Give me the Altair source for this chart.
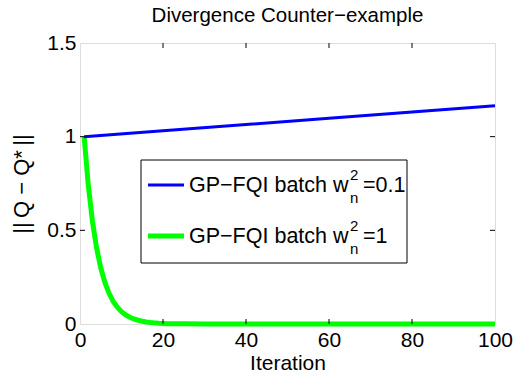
import altair as alt
import pandas as pd

# ---- data ----
iterations_blue = [1, 20, 40, 60, 80, 100]
values_blue = [1.000, 1.032, 1.065, 1.098, 1.132, 1.165]

iterations_green = [1, 2, 3, 4, 5, 6, 7, 8, 9, 10, 11, 12, 13, 14, 15, 16, 17, 18,
                    19, 20, 21, 22, 23, 24, 25, 30, 40, 50, 60, 70, 80, 90, 100]
values_green = [1.000, 0.740, 0.548, 0.405, 0.300, 0.222, 0.164, 0.121, 0.090, 0.066,
                0.049, 0.036, 0.027, 0.020, 0.015, 0.011, 0.008, 0.006, 0.004, 0.003,
                0.002, 0.002, 0.001, 0.001, 0.001, 0.0, 0.0, 0.0, 0.0, 0.0, 0.0, 0.0, 0.0]

x_ticks = [0, 20, 40, 60, 80, 100]
y_ticks = [0, 0.5, 1, 1.5]
x_inner_ticks = [20, 40, 60, 80]
y_inner_ticks = [0.5, 1]

title_text = "Divergence Counter\u2212example"
x_title = "Iteration"
y_title = "||\u2009Q \u2212 Q*\u2009||"

legend_main = ["GP\u2212FQI batch w", "GP\u2212FQI batch w"]
legend_sup = ["2", "2"]
legend_sub = ["n", "n"]
legend_val = ["=0.1", "=1"]
colors = ["#0000ff", "#00ff00"]
widths = [3, 5]

FONT = "Liberation Sans"
W, H = 415, 281

xs = alt.Scale(domain=[0, 100], nice=False, zero=False)
ys = alt.Scale(domain=[0, 1.5], nice=False)

xaxis = alt.Axis(values=x_ticks, ticks=False, domain=False, grid=False,
                 labelFlush=False, labelOverlap=False, labelPadding=5,
                 labelFont=FONT, labelFontSize=21, labelColor="black",
                 title=x_title, titleFont=FONT, titleFontSize=21,
                 titleFontWeight="normal", titleColor="black",
                 titleY=39, titleBaseline="middle")
yaxis = alt.Axis(values=y_ticks, format="~g", ticks=False, domain=False, grid=False,
                 labelFlush=False, labelOverlap=False, labelPadding=4,
                 labelFont=FONT, labelFontSize=21, labelColor="black",
                 title=y_title, titleFont=FONT, titleFontSize=22,
                 titleFontWeight="normal", titleColor="black",
                 titleX=-59, titleY=H / 2, titleAlign="center", titleBaseline="middle")

xenc = alt.X("Iteration:Q", scale=xs, axis=xaxis)
yenc = alt.Y("Value:Q", scale=ys, axis=yaxis)

df_blue = pd.DataFrame({"Iteration": iterations_blue, "Value": values_blue})
df_green = pd.DataFrame({"Iteration": iterations_green, "Value": values_green})

green = alt.Chart(df_green).mark_line(color=colors[1], strokeWidth=widths[1]).encode(x=xenc, y=yenc)
blue = alt.Chart(df_blue).mark_line(color=colors[0], strokeWidth=widths[0]).encode(x=xenc, y=yenc)

dx = pd.DataFrame({"Iteration": x_inner_ticks})
dy = pd.DataFrame({"Value": y_inner_ticks})
tick_style = dict(color="black", strokeWidth=1)
t_bottom = alt.Chart(dx).mark_rule(**tick_style).encode(x=xenc, y=alt.value(H), y2=alt.value(H - 5))
t_top = alt.Chart(dx).mark_rule(**tick_style).encode(x=xenc, y=alt.value(0), y2=alt.value(5))
t_left = alt.Chart(dy).mark_rule(**tick_style).encode(y=yenc, x=alt.value(0), x2=alt.value(5))
t_right = alt.Chart(dy).mark_rule(**tick_style).encode(y=yenc, x=alt.value(W - 5), x2=alt.value(W))

one = pd.DataFrame({"k": [0]})
box = alt.Chart(one).mark_rect(fill="white", stroke="black", strokeWidth=1).encode(
    x=alt.value(61), x2=alt.value(327), y=alt.value(117), y2=alt.value(220))

legend_layers = []
row_y = [143, 194]
main_x = 109
sup_x = 270
val_x = 283
for i in range(2):
    ry = row_y[i]
    legend_layers.append(alt.Chart(one).mark_rule(color=colors[i], strokeWidth=widths[i]).encode(
        x=alt.value(68), x2=alt.value(104), y=alt.value(ry - 1)))
    legend_layers.append(alt.Chart(one).mark_text(align="left", baseline="middle", font=FONT,
                                                  fontSize=21.5, color="black").encode(
        x=alt.value(main_x), y=alt.value(ry), text=alt.value(legend_main[i])))
    legend_layers.append(alt.Chart(one).mark_text(align="left", baseline="middle", font=FONT,
                                                  fontSize=15, color="black").encode(
        x=alt.value(sup_x), y=alt.value(ry - 11), text=alt.value(legend_sup[i])))
    legend_layers.append(alt.Chart(one).mark_text(align="left", baseline="middle", font=FONT,
                                                  fontSize=15, color="black").encode(
        x=alt.value(sup_x), y=alt.value(ry + 12), text=alt.value(legend_sub[i])))
    legend_layers.append(alt.Chart(one).mark_text(align="left", baseline="middle", font=FONT,
                                                  fontSize=21.5, color="black").encode(
        x=alt.value(val_x), y=alt.value(ry), text=alt.value(legend_val[i])))

chart = alt.layer(green, blue, t_bottom, t_top, t_left, t_right, box, *legend_layers).properties(
    width=W, height=H,
    title=alt.TitleParams(title_text, font=FONT, fontSize=20.5, fontWeight="normal",
                          color="black", anchor="middle", frame="group", offset=6),
    autosize=alt.AutoSizeParams(type="none"),
    padding={"left": 80, "top": 43, "right": 21, "bottom": 53},
).configure_view(stroke="black", strokeWidth=1).configure(background="white")

chart.save("out.html", embed_options={"renderer": "svg", "actions": False})
